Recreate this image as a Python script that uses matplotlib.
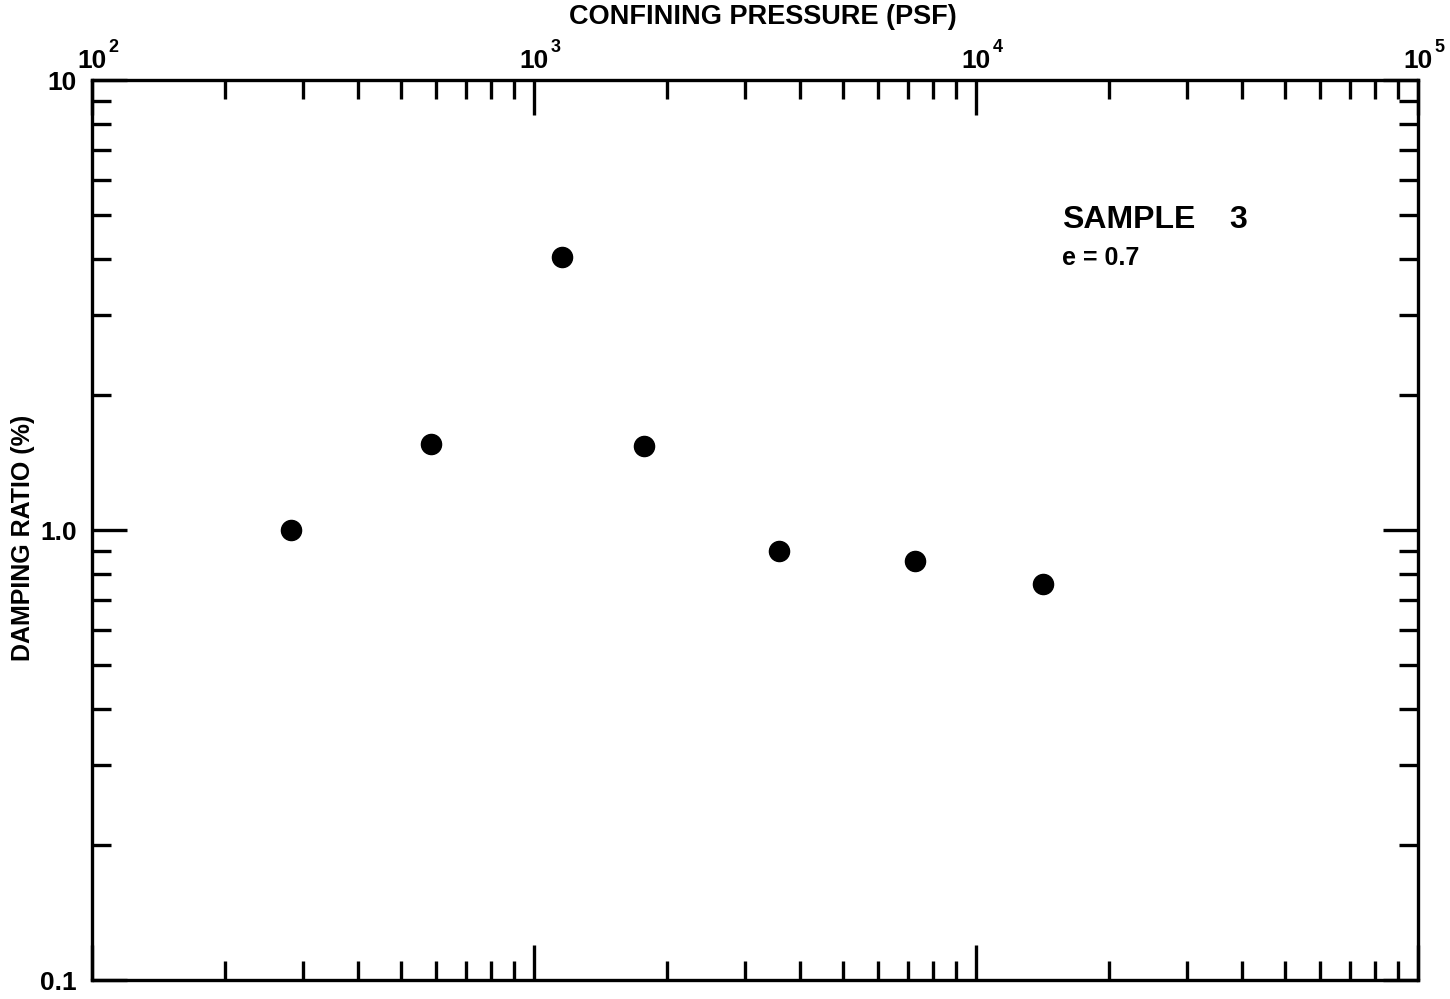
import matplotlib
matplotlib.use("Agg")
import matplotlib.pyplot as plt
from matplotlib.ticker import LogLocator, NullFormatter, FixedLocator, FixedFormatter
import matplotlib.transforms as mtransforms

plt.rcParams['font.family'] = ['Liberation Sans', 'DejaVu Sans']
plt.rcParams['font.weight'] = 'bold'

# Data
pressure_psf = [282, 585, 1156, 1774, 3581, 7278, 14190]
damping_pct = [1.00, 1.55, 4.04, 1.54, 0.898, 0.853, 0.759]

x_major = [1e2, 1e3, 1e4, 1e5]
x_exponents = ['2', '3', '4', '5']
y_major = [0.1, 1.0, 10]
y_labels = ['0.1', '1.0', '10']

fig = plt.figure(figsize=(14.5, 9.99), dpi=100)
ax = fig.add_axes([92/1450, 19/999, (1418-92)/1450, (980-80)/999])

ax.plot(pressure_psf, damping_pct, 'o', color='black', markersize=14.5, zorder=5)

ax.set_xscale('log')
ax.set_yscale('log')
ax.set_xlim(1e2, 1e5)
ax.set_ylim(0.1, 10)

ax.xaxis.set_major_locator(FixedLocator(x_major))
ax.xaxis.set_major_formatter(NullFormatter())
ax.xaxis.set_minor_locator(LogLocator(base=10, subs=range(2, 10)))
ax.xaxis.set_minor_formatter(NullFormatter())
ax.yaxis.set_major_locator(FixedLocator(y_major))
ax.yaxis.set_major_formatter(FixedFormatter(y_labels))
ax.yaxis.set_minor_locator(LogLocator(base=10, subs=range(2, 10)))
ax.yaxis.set_minor_formatter(NullFormatter())

ax.tick_params(which='both', direction='in', top=True, right=True, width=2.4, color='black')
ax.tick_params(which='major', length=25)
ax.tick_params(which='minor', length=13.5)
ax.tick_params(axis='x', which='both', labeltop=False, labelbottom=False)
ax.tick_params(axis='y', which='both', labelsize=19, pad=11)
for s in ax.spines.values():
    s.set_linewidth(2.4)

# top tick labels: "10" centered on tick, small exponent at upper right
trans = mtransforms.blended_transform_factory(ax.transData, ax.transAxes)
base_y = 1.0 + 12/900
for xv, ex in zip(x_major, x_exponents):
    ax.text(xv, base_y, '10', transform=trans, ha='center', va='baseline',
            fontsize=19, fontweight='bold', clip_on=False)
    ax.annotate(ex, xy=(xv, base_y), xycoords=trans, xytext=(12, 11.5),
                textcoords='offset points', ha='left', va='baseline',
                fontsize=13, fontweight='bold', annotation_clip=False)

fig.text(763/1450, 1 - 16.5/999, 'CONFINING PRESSURE (PSF)',
         ha='center', va='center', fontsize=19.5, fontweight='bold')
fig.text(23/1450, 1 - 538/999, 'DAMPING RATIO (%)', rotation=90,
         ha='center', va='center', fontsize=18, fontweight='bold')

ax.text(0.7315, 0.8356, 'SAMPLE', transform=ax.transAxes, fontsize=23,
        fontweight='bold', va='baseline')
ax.text(0.858, 0.8356, '3', transform=ax.transAxes, fontsize=23,
        fontweight='bold', va='baseline')
ax.text(0.7315, 0.794, 'e = 0.7', transform=ax.transAxes, fontsize=18,
        fontweight='bold', va='baseline')

fig.savefig('out.png', dpi=100)
